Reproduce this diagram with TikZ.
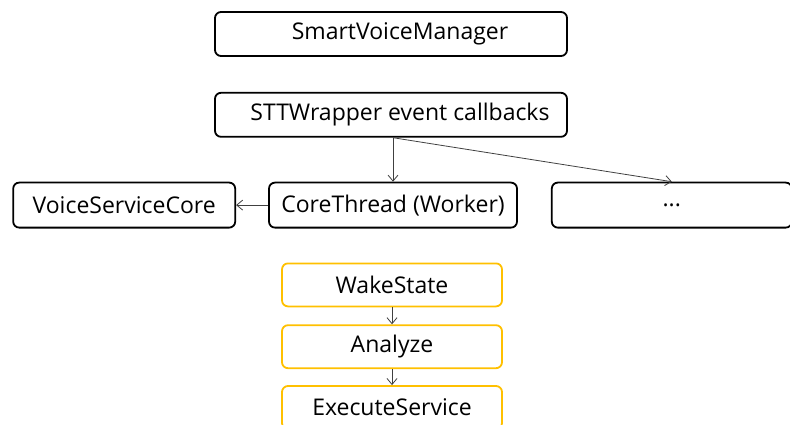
\documentclass[tikz,border=0pt]{standalone}
\usepackage{fontspec}
\setmainfont{Open Sans}
\usetikzlibrary{arrows.meta,positioning}
\definecolor{gold}{HTML}{FFC000}
\tikzset{
  box/.style={
    draw, rounded corners=6pt, line width=1.8pt, align=center,
    font=\fontsize{23}{26}\selectfont, minimum height=44pt, inner sep=0pt
  },
  wide/.style={box, minimum width=352pt},
  mid/.style={box, minimum height=45pt},
  state/.style={box, draw=gold, minimum width=220pt, minimum height=43pt},
  arr/.style={-{Straight Barb[length=6pt,width=10pt]}, line width=0.8pt, draw=black!75}
}

\begin{document}
\begin{tikzpicture}[x=1pt, y=1pt]
  \useasboundingbox (0,0) rectangle (790,-425);
  \clip (0,0) rectangle (790,-425);

  \node[wide] (mgr) at (391,-34) {\hspace*{18pt}SmartVoiceManager};
  \node[wide, below=35pt of mgr] (stt) {\hspace*{18pt}STTWrapper event callbacks};

  \node[mid, minimum width=248pt, below=44pt of stt, xshift=2pt] (core) {CoreThread (Worker)};
  \node[mid, minimum width=222pt, left=32pt of core] (vsc) {VoiceServiceCore};
  \node[mid, minimum width=240pt, right=33pt of core] (more) {...};

  \node[state, below=34pt of core, xshift=-1pt] (wake) {WakeState};
  \node[state, below=17pt of wake] (ana) {Analyze};
  \node[state, below=16pt of ana] (exec) {ExecuteService};

  \draw[arr] (stt.south -| core.north) -- (core.north);
  \draw[arr] (stt.south -| core.north) -- (more.north);
  \draw[arr] (core) -- (vsc);
  \draw[arr] (wake) -- (ana);
  \draw[arr] (ana) -- (exec);
\end{tikzpicture}
\end{document}
